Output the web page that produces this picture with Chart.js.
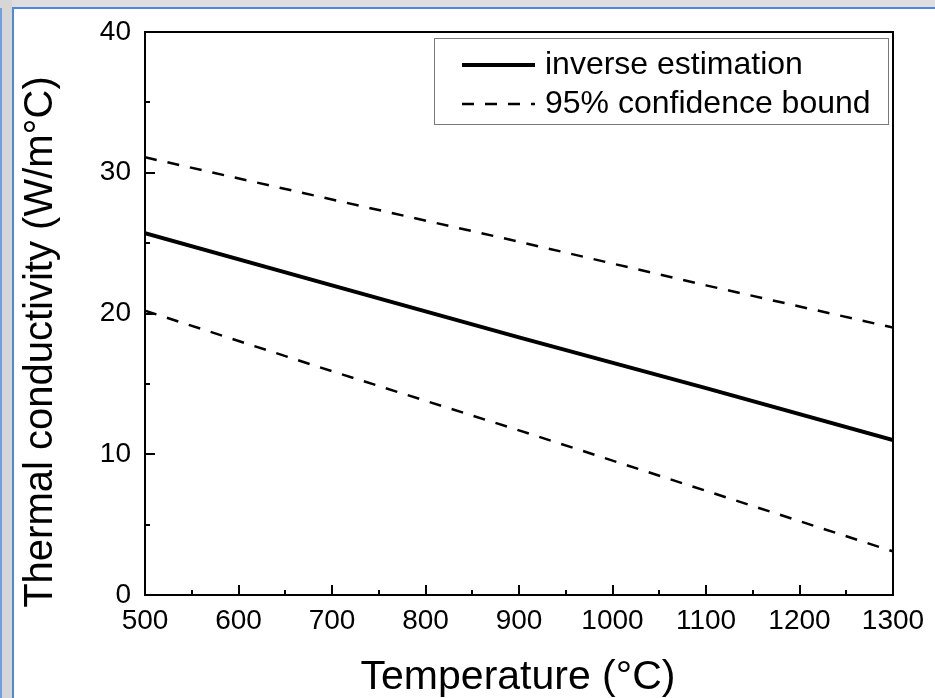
<!DOCTYPE html>
<html><head><meta charset="utf-8">
<script src="https://cdn.jsdelivr.net/npm/chart.js@4/dist/chart.umd.min.js"></script>
<style>html,body{margin:0;padding:0;background:#fff;overflow:hidden}#wrap{position:relative;width:935px;height:698px}</style>
</head><body><div id="wrap"><canvas id="c" width="935" height="698"></canvas></div>
<script>
// ---- data ----
const temperatures = [500, 700, 900, 1100, 1300];
const inverseEstimation = [25.7, 22.0, 18.3, 14.7, 11.0];
const upperBound = [31.1, 28.1, 25.1, 22.0, 19.0];
const lowerBound = [20.2, 15.9, 11.7, 7.4, 3.1];
const xTickValues = [500, 600, 700, 800, 900, 1000, 1100, 1200, 1300];
const xMinorTickValues = [550, 650, 750, 850, 950, 1050, 1150, 1250];
const yTickValues = [0, 10, 20, 30, 40];
const yMinorTickValues = [5, 15, 25, 35];
const seriesLabels = ['inverse estimation', '95% confidence bound'];
const xTitle = 'Temperature (°C)';
const yTitle = 'Thermal conductivity (W/m°C)';

const FONT = '"Liberation Sans", Arial, sans-serif';
const toPts = ys => temperatures.map((t, i) => ({x: t, y: ys[i]}));

const decor = {
  id: 'decor',
  beforeDraw(chart) {
    const ctx = chart.ctx, W = chart.width, H = chart.height;
    ctx.save();
    ctx.fillStyle = '#ffffff';
    ctx.fillRect(0, 0, W, H);
    // window frame
    ctx.fillStyle = '#dedede';
    ctx.fillRect(0, 0, W, 7);
    ctx.fillStyle = '#d6d6d6';
    ctx.fillRect(0, 0, 12, H);
    ctx.fillStyle = '#6f9fe0';
    ctx.fillRect(0, 8, 2, H - 8);
    ctx.fillStyle = '#4f88d8';
    ctx.fillRect(12, 7, 2, H - 7);
    ctx.fillRect(12, 7, W - 12, 2);
    ctx.restore();
  },
  afterDatasetsDraw(chart) {
    const ctx = chart.ctx, a = chart.chartArea;
    const xs = chart.scales.x, ys = chart.scales.y;
    ctx.save();
    ctx.strokeStyle = '#000';
    ctx.lineWidth = 2;
    ctx.beginPath();
    xTickValues.forEach(v => { const p = Math.round(xs.getPixelForValue(v)); ctx.moveTo(p, a.bottom); ctx.lineTo(p, a.bottom - 10); });
    xMinorTickValues.forEach(v => { const p = Math.round(xs.getPixelForValue(v)); ctx.moveTo(p, a.bottom); ctx.lineTo(p, a.bottom - 5); });
    yTickValues.forEach(v => { const p = Math.round(ys.getPixelForValue(v)); ctx.moveTo(a.left, p); ctx.lineTo(a.left + 10, p); });
    yMinorTickValues.forEach(v => { const p = Math.round(ys.getPixelForValue(v)); ctx.moveTo(a.left, p); ctx.lineTo(a.left + 5, p); });
    ctx.stroke();
    ctx.strokeRect(a.left, a.top, a.right - a.left, a.bottom - a.top);

    // axis titles
    ctx.fillStyle = '#000';
    ctx.font = '41px ' + FONT;
    ctx.textAlign = 'center';
    ctx.textBaseline = 'alphabetic';
    ctx.fillText(xTitle, (a.left + a.right) / 2 - 1, 689);
    ctx.save();
    ctx.font = '40px ' + FONT;
    ctx.translate(52, 342);
    ctx.rotate(-Math.PI / 2);
    ctx.fillText(yTitle, 0, 0);
    ctx.restore();

    // legend
    const ds = chart.data.datasets;
    ctx.lineWidth = 1;
    ctx.strokeStyle = '#7a7a7a';
    ctx.strokeRect(434.5, 38.5, 454, 86);
    const rows = [{d: ds[0], y: 64}, {d: ds[1], y: 103}];
    ctx.font = '32px ' + FONT;
    ctx.fillStyle = '#000';
    ctx.textBaseline = 'middle';
    ctx.textAlign = 'left';
    rows.forEach(r => {
      ctx.save();
      ctx.strokeStyle = r.d.borderColor;
      ctx.lineWidth = r.d.borderWidth;
      ctx.setLineDash(r.d.borderDash || []);
      ctx.beginPath();
      ctx.moveTo(462, r.y + 1); ctx.lineTo(535, r.y + 1);
      ctx.stroke();
      ctx.restore();
      ctx.fillText(r.d.label, 545, r.y + 1);
    });
    ctx.restore();
  }
};

new Chart(document.getElementById('c'), {
  type: 'line',
  data: {
    datasets: [
      {label: seriesLabels[0], data: toPts(inverseEstimation), borderColor: '#000', borderWidth: 4, pointRadius: 0, fill: false, tension: 0},
      {label: seriesLabels[1], data: toPts(upperBound), borderColor: '#000', borderWidth: 2.5, borderDash: [12, 11], pointRadius: 0, fill: false, tension: 0},
      {label: seriesLabels[1], data: toPts(lowerBound), borderColor: '#000', borderWidth: 2.5, borderDash: [12, 11], pointRadius: 0, fill: false, tension: 0}
    ]
  },
  options: {
    responsive: false,
    animation: false,
    devicePixelRatio: 1,
    layout: {padding: {left: 0, top: 32, right: 42, bottom: 0}},
    plugins: {legend: {display: false}, tooltip: {enabled: false}},
    scales: {
      x: {
        type: 'linear', min: 500, max: 1300,
        afterBuildTicks: s => { s.ticks = xTickValues.map(v => ({value: v})); },
        afterFit: s => { s.height = 103; },
        grid: {display: false, drawTicks: false},
        border: {display: false},
        ticks: {color: '#000', font: {family: FONT, size: 28}, padding: 9, maxRotation: 0, autoSkip: false, callback: v => String(v)},
        title: {display: false}
      },
      y: {
        type: 'linear', min: 0, max: 40,
        afterBuildTicks: s => { s.ticks = yTickValues.map(v => ({value: v})); },
        afterFit: s => { s.width = 145; },
        grid: {display: false, drawTicks: false},
        border: {display: false},
        ticks: {color: '#000', font: {family: FONT, size: 28}, padding: 14, callback: v => String(v)},
        title: {display: false}
      }
    }
  },
  plugins: [decor]
});
</script></body></html>
